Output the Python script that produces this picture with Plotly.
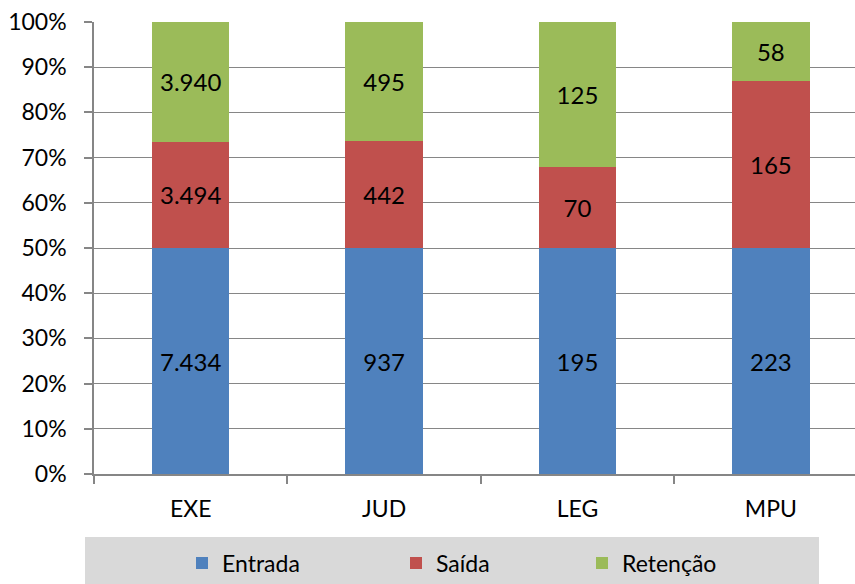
import plotly.graph_objects as go

# Movimentação por poder: entrada, saída e retenção
categorias = ["EXE", "JUD", "LEG", "MPU"]
entrada = [7434, 937, 195, 223]
saida = [3494, 442, 70, 165]
retencao = [3940, 495, 125, 58]

series = [
    ("Entrada", entrada, "#4F81BD", "legend", 197),
    ("Saída", saida, "#C0504D", "legend2", 411),
    ("Retenção", retencao, "#9BBB59", "legend3", 597),
]

FONT = "Lato"
GRID = "#868686"
W, H = 855, 584
SWATCH_OFFSET = 15  # distance from a legend's left edge to its swatch

fig = go.Figure()
legends = {}
for nome, valores, cor, leg, swatch_x in series:
    fig.add_trace(go.Bar(
        name=nome,
        x=categorias,
        y=valores,
        customdata=valores,
        texttemplate="%{customdata:,.0f}",
        textposition="inside",
        insidetextanchor="middle",
        textfont=dict(family=FONT, size=24, color="black"),
        marker=dict(color=cor, line=dict(width=0)),
        width=0.40,
        hoverinfo="skip",
        legend=leg,
        showlegend=True,
    ))
    legends[leg] = dict(
        xref="container", yref="container",
        x=(swatch_x - SWATCH_OFFSET) / W, xanchor="left",
        y=(H - 563) / H, yanchor="middle",
        bgcolor="rgba(0,0,0,0)",
        font=dict(family=FONT, size=23, color="black"),
        itemclick=False,
        itemdoubleclick=False,
    )

fig.update_layout(
    width=W,
    height=H,
    barmode="stack",
    barnorm="percent",
    separators=",.",
    paper_bgcolor="white",
    plot_bgcolor="white",
    margin=dict(l=94, r=0, t=22, b=110, autoexpand=False),
    font=dict(family=FONT, size=22, color="black"),
    **legends,
    shapes=[dict(
        type="rect", xref="paper", yref="paper",
        x0=(85 - 94) / 761, x1=(819 - 94) / 761,
        y0=-110 / 452, y1=(474 - 537) / 452,
        fillcolor="#D9D9D9", line=dict(width=0), layer="below",
    )],
)

fig.update_yaxes(
    range=[0, 100],
    dtick=10,
    ticksuffix="%",
    showgrid=True,
    gridcolor=GRID,
    gridwidth=1,
    showline=True,
    linecolor=GRID,
    linewidth=1.5,
    ticks="outside",
    ticklen=8,
    tickcolor=GRID,
    tickwidth=1.5,
    ticklabelstandoff=13,
    zeroline=False,
    tickfont=dict(family=FONT, size=23),
)

fig.update_xaxes(
    range=[-0.5, 3.435],
    showline=True,
    linecolor=GRID,
    linewidth=1.5,
    ticks="outside",
    tickson="boundaries",
    ticklen=8,
    tickcolor=GRID,
    tickwidth=1.5,
    ticklabelstandoff=14,
    showgrid=False,
    tickfont=dict(family=FONT, size=23),
)

fig.write_html("out.html")
